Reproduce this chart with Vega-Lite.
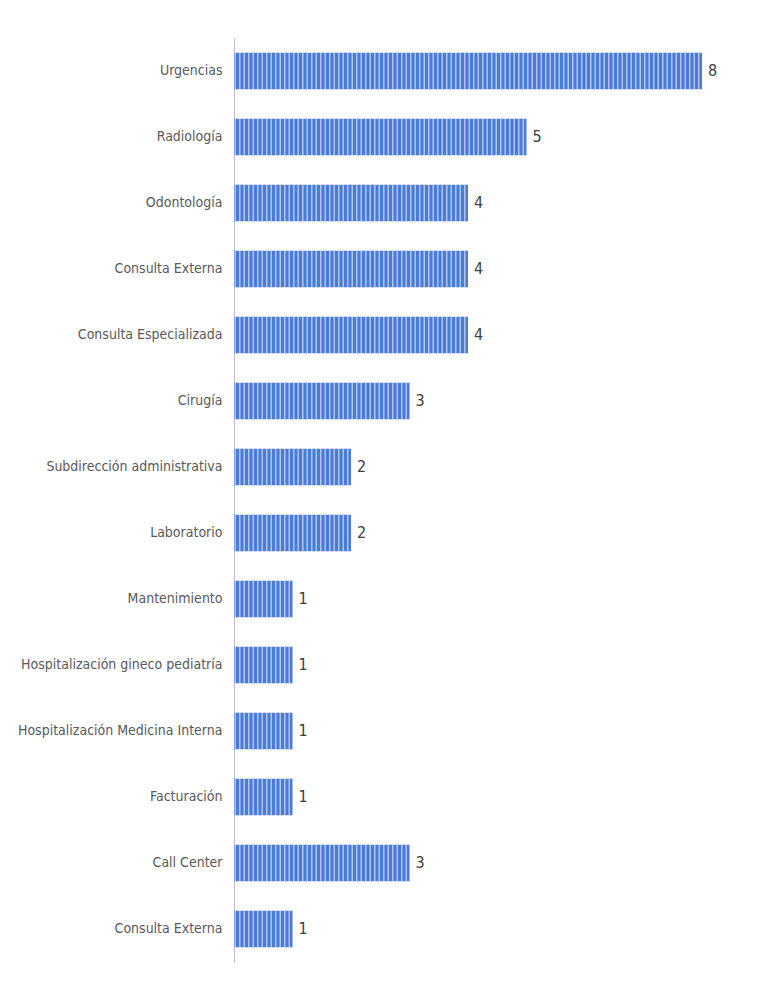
{
  "$schema": "https://vega.github.io/schema/vega-lite/v6.json",
  "width": 468,
  "height": 924,
  "autosize": {"type": "none"},
  "padding": {"left": 234, "top": 38, "right": 62, "bottom": 23},
  "background": "white",
  "config": {"view": {"stroke": null}},
  "data": {"values": [
    {"area": "Urgencias", "value": 8},
    {"area": "Radiología", "value": 5},
    {"area": "Odontología", "value": 4},
    {"area": "Consulta Externa", "value": 4},
    {"area": "Consulta Especializada", "value": 4},
    {"area": "Cirugía", "value": 3},
    {"area": "Subdirección administrativa", "value": 2},
    {"area": "Laboratorio", "value": 2},
    {"area": "Mantenimiento", "value": 1},
    {"area": "Hospitalización gineco pediatría", "value": 1},
    {"area": "Hospitalización Medicina Interna", "value": 1},
    {"area": "Facturación", "value": 1},
    {"area": "Call Center", "value": 3},
    {"area": "Consulta Externa\u200b", "value": 1}
  ]},
  "encoding": {
    "y": {
      "field": "area", "type": "nominal", "sort": null,
      "scale": {"paddingInner": 0.45, "paddingOuter": 0.225},
      "axis": {
        "title": null, "ticks": false, "labelPadding": 12,
        "domainColor": "#bfbfbf", "domainWidth": 1,
        "labelFont": "DejaVu Sans Condensed, Roboto Condensed, Liberation Sans Narrow, Roboto", "labelFontSize": 14,
        "labelColor": "#595959", "labelLimit": 300
      }
    }
  },
  "layer": [
    {
      "mark": {"type": "bar", "fill": "#4a7bd6"},
      "encoding": {
        "x": {"field": "value", "type": "quantitative", "scale": {"domain": [0, 8]}, "axis": null}
      }
    },
    {
      "mark": {"type": "rule", "color": "#dbe5f8", "strokeWidth": 36, "strokeDash": [1.5, 3], "strokeDashOffset": 2, "opacity": 0.7},
      "encoding": {
        "x": {"field": "value", "type": "quantitative"},
        "x2": {"datum": 0}
      }
    },
    {
      "mark": {"type": "text", "align": "left", "dx": 6, "font": "DejaVu Sans Condensed, Roboto Condensed, Liberation Sans Narrow, Roboto", "fontSize": 16, "color": "#404040"},
      "encoding": {
        "x": {"field": "value", "type": "quantitative"},
        "text": {"field": "value", "type": "quantitative"}
      }
    }
  ]
}
